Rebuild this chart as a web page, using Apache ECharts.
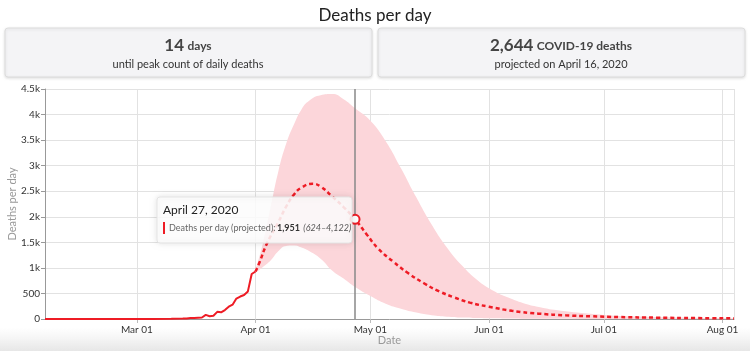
<!DOCTYPE html>
<html>
<head>
<meta charset="utf-8">
<script src="https://cdn.jsdelivr.net/npm/echarts@6/dist/echarts.min.js"></script>
<style>
  html, body { margin: 0; padding: 0; background: #fff; }
  #main { width: 750px; height: 351px; }
</style>
</head>
<body>
<div id="main"></div>
<script>
// observed deaths per day (solid line)
var obsDates = ['2020-02-06','2020-02-20','2020-03-01','2020-03-05','2020-03-10','2020-03-13','2020-03-14',
  '2020-03-15','2020-03-16','2020-03-17','2020-03-18','2020-03-19','2020-03-20','2020-03-21','2020-03-22',
  '2020-03-23','2020-03-24','2020-03-25','2020-03-26','2020-03-27','2020-03-28','2020-03-29','2020-03-30',
  '2020-03-31','2020-04-01'];
var obsValues = [0,0,1,2,5,10,12,18,20,25,30,80,55,65,140,130,175,240,280,400,440,470,540,880,930];

// projected deaths per day (dashed line)
var projDates = ['2020-04-01','2020-04-02','2020-04-04','2020-04-07','2020-04-09','2020-04-11','2020-04-13',
  '2020-04-16','2020-04-18','2020-04-21','2020-04-24','2020-04-27','2020-04-30','2020-05-03','2020-05-07',
  '2020-05-11','2020-05-15','2020-05-19','2020-05-23','2020-05-27','2020-06-01','2020-06-07','2020-06-14',
  '2020-06-21','2020-06-28','2020-07-05','2020-07-15','2020-07-25','2020-08-04'];
var projValues = [930,1100,1480,1900,2200,2430,2570,2644,2590,2400,2190,1951,1660,1380,1120,
  890,700,540,420,320,240,160,105,72,52,38,26,18,12];

// uncertainty band
var bandDates = ['2020-04-01','2020-04-03','2020-04-05','2020-04-07','2020-04-09','2020-04-11','2020-04-13',
  '2020-04-15','2020-04-18','2020-04-21','2020-04-24','2020-04-27','2020-05-01','2020-05-05','2020-05-09',
  '2020-05-13','2020-05-17','2020-05-21','2020-05-25','2020-05-29','2020-06-02','2020-06-06','2020-06-10',
  '2020-06-14','2020-06-18','2020-06-24','2020-07-01','2020-07-10','2020-07-20','2020-08-04'];
var bandLower = [900,1020,1150,1330,1430,1440,1400,1330,1180,950,790,624,450,300,200,
  125,75,45,28,18,13,9,6,4,3,2,1,0,0,0];
var bandUpper = [960,1500,2200,2900,3430,3800,4100,4270,4380,4400,4300,4122,3880,3480,2950,
  2380,1850,1400,1040,760,560,420,310,235,180,125,80,48,30,15];

var FONT = 'Lato, "Noto Sans", sans-serif';
var RED = '#ee1c25';

function pairs(xs, ys) {
  return xs.map(function (d, i) { return [d, ys[i]]; });
}
var bandDiff = bandUpper.map(function (v, i) { return v - bandLower[i]; });

var option = {
  animation: false,
  textStyle: { fontFamily: FONT },
  title: {
    text: 'Deaths per day',
    left: 'center',
    top: 2,
    textStyle: { fontSize: 17, fontWeight: 'normal', color: '#222', fontFamily: FONT }
  },
  grid: { left: 45, right: 16, top: 89, bottom: 32, outerBoundsMode: 'none', containLabel: false },
  xAxis: {
    type: 'time',
    min: '2020-02-06',
    max: '2020-08-04',
    splitNumber: 6,
    name: 'Date',
    nameLocation: 'middle',
    nameGap: 16,
    nameMoveOverlap: false,
    nameTextStyle: { color: '#999', fontSize: 11 },
    axisLine: { lineStyle: { color: '#999' } },
    axisTick: { show: true, lineStyle: { color: '#bbb' }, length: 4 },
    axisLabel: { formatter: '{MMM} {dd}', color: '#333', fontSize: 10, margin: 6 },
    splitLine: { show: true, lineStyle: { color: '#e2e2e2' } }
  },
  yAxis: {
    type: 'value',
    min: 0,
    max: 4500,
    interval: 500,
    name: 'Deaths per day',
    nameLocation: 'middle',
    nameGap: 27,
    nameMoveOverlap: false,
    nameTextStyle: { color: '#999', fontSize: 11 },
    axisLine: { show: true, lineStyle: { color: '#999' } },
    axisTick: { show: true, length: 4, lineStyle: { color: '#999' } },
    axisLabel: {
      color: '#333', fontSize: 10, margin: 5,
      formatter: function (v) { return v >= 1000 ? (v / 1000) + 'k' : v; }
    },
    splitLine: { lineStyle: { color: '#e2e2e2' } }
  },
  series: [
    {
      name: 'lower', type: 'line', stack: 'band', symbol: 'none', silent: true,
      lineStyle: { opacity: 0 }, smooth: true,
      data: pairs(bandDates, bandLower)
    },
    {
      name: 'band', type: 'line', stack: 'band', symbol: 'none', silent: true,
      lineStyle: { opacity: 0 }, smooth: true,
      areaStyle: { color: '#fcd6da', opacity: 1 },
      data: pairs(bandDates, bandDiff)
    },
    {
      name: 'Deaths per day (projected)', type: 'line', symbol: 'none', smooth: true,
      lineStyle: { color: RED, width: 2.5, type: [4, 3] },
      data: pairs(projDates, projValues),
      markLine: {
        silent: true, symbol: 'none', label: { show: false },
        lineStyle: { color: '#888', width: 1.5, type: 'solid' },
        data: [{ xAxis: '2020-04-27' }]
      },
      markPoint: {
        symbol: 'circle', symbolSize: 9, label: { show: false },
        itemStyle: { color: '#fff', borderColor: RED, borderWidth: 2 },
        data: [{ coord: ['2020-04-27', 1951] }]
      }
    },
    {
      name: 'Deaths per day', type: 'line', symbol: 'none',
      lineStyle: { color: RED, width: 2 },
      data: pairs(obsDates, obsValues)
    }
  ],
  graphic: [
    {
      type: 'rect', z: -10, silent: true,
      shape: { x: 0, y: 328, width: 750, height: 23 },
      style: {
        fill: new echarts.graphic.LinearGradient(0, 0, 0, 1, [
          { offset: 0, color: 'rgba(235,235,235,0)' },
          { offset: 1, color: '#e6e6e6' }
        ])
      }
    },
    {
      type: 'rect', shape: { x: 5, y: 28, width: 367, height: 49, r: 3 },
      style: { fill: '#f4f4f6', stroke: '#dcdcdc', shadowBlur: 3, shadowColor: 'rgba(0,0,0,0.12)', shadowOffsetY: 1 }
    },
    {
      type: 'text', x: 188, y: 46,
      style: {
        text: '{b|14} {s|days}', align: 'center', verticalAlign: 'middle',
        rich: {
          b: { fontSize: 17, fontWeight: 'bold', fill: '#444', fontFamily: FONT },
          s: { fontSize: 12, fontWeight: 'bold', fill: '#444', fontFamily: FONT }
        }
      }
    },
    {
      type: 'text', x: 188, y: 64,
      style: { text: 'until peak count of daily deaths', align: 'center', verticalAlign: 'middle',
        fontSize: 11, fill: '#333', fontFamily: FONT }
    },
    {
      type: 'rect', shape: { x: 378, y: 28, width: 367, height: 49, r: 3 },
      style: { fill: '#f4f4f6', stroke: '#dcdcdc', shadowBlur: 3, shadowColor: 'rgba(0,0,0,0.12)', shadowOffsetY: 1 }
    },
    {
      type: 'text', x: 561, y: 46,
      style: {
        text: '{b|2,644} {s|COVID-19 deaths}', align: 'center', verticalAlign: 'middle',
        rich: {
          b: { fontSize: 17, fontWeight: 'bold', fill: '#444', fontFamily: FONT },
          s: { fontSize: 12, fontWeight: 'bold', fill: '#444', fontFamily: FONT }
        }
      }
    },
    {
      type: 'text', x: 561, y: 64,
      style: { text: 'projected on April 16, 2020', align: 'center', verticalAlign: 'middle',
        fontSize: 11, fill: '#333', fontFamily: FONT }
    },
    // tooltip box for April 27
    {
      type: 'rect', z: 100, shape: { x: 157, y: 197, width: 195, height: 46, r: 3 },
      style: { fill: 'rgba(255,255,255,0.86)', stroke: '#e4e4e4', shadowBlur: 6, shadowColor: 'rgba(0,0,0,0.12)' }
    },
    {
      type: 'text', z: 101, x: 163, y: 210,
      style: { text: 'April 27, 2020', verticalAlign: 'middle', fontSize: 12, fill: '#222', fontFamily: FONT }
    },
    {
      type: 'rect', z: 101, shape: { x: 163, y: 222, width: 2, height: 12 },
      style: { fill: RED }
    },
    {
      type: 'text', z: 101, x: 169, y: 228,
      style: { text: 'Deaths per day (projected):', verticalAlign: 'middle', fontSize: 9, fill: '#666', fontFamily: FONT }
    },
    {
      type: 'text', z: 101, x: 277, y: 228,
      style: {
        text: '{b|1,951} {i|(624–4,122)}', verticalAlign: 'middle',
        rich: {
          b: { fontSize: 9, fontWeight: 'bold', fill: '#333', fontFamily: FONT },
          i: { fontSize: 9, fontStyle: 'italic', fill: '#555', fontFamily: FONT }
        }
      }
    }
  ]
};

var myChart = echarts.init(document.getElementById('main'));
myChart.setOption(option);
</script>
</body>
</html>
